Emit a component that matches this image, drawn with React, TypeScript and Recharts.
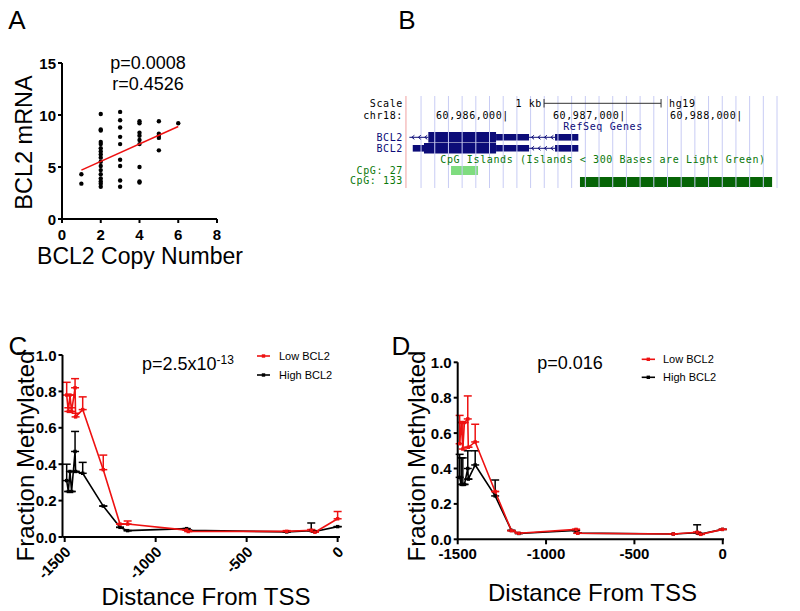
import React from 'react';
import {
  ScatterChart,
  Scatter,
  LineChart,
  Line,
  ComposedChart,
  XAxis,
  YAxis,
  ErrorBar,
  ReferenceLine,
  ReferenceArea,
} from 'recharts';

const FONT = '"Liberation Sans", Arial, Helvetica, sans-serif';
const MONO = '"DejaVu Sans Mono", "Liberation Mono", monospace';
const RED = '#ee1111';
const NAVY = '#0c0c78';
const CPG_TEXT = '#0a780a';

// ---------- Panel A: BCL2 mRNA vs copy number ----------
const aCopyNumber = [
  1, 1,
  2, 2, 2, 2, 2, 2, 2, 2, 2, 2, 2, 2, 2, 2, 2, 2, 2,
  3, 3, 3, 3, 3, 3, 3, 3, 3,
  4, 4, 4, 4, 4, 4, 4, 4, 4,
  5, 5, 5, 5, 5,
  6,
];
const aMRNA = [
  4.3, 3.4,
  10.1, 8.6, 8.5, 7.4, 7.2, 6.8, 6.5, 6.2, 5.9, 5.5, 5.1, 4.7, 4.3, 3.9, 3.6, 3.4, 3.1,
  10.3, 9.5, 8.8, 7.9, 7.2, 5.7, 5.1, 3.7, 3.1,
  9.4, 9.2, 8.3, 8.0, 7.6, 7.2, 5.0, 3.6, 3.5,
  9.4, 8.2, 8.0, 7.8, 6.6,
  9.2,
];
const aFitX = [1, 6];
const aFitY = [4.7, 8.9];
const aXTicks = [0, 2, 4, 6, 8];
const aYTicks = [0, 5, 10, 15];

const aPoints = aCopyNumber.map((x, i) => ({ x, y: aMRNA[i] }));
const aFit = aFitX.map((x, i) => ({ x, y: aFitY[i] }));

// ---------- Panel B: genome browser (hg19 chr18) ----------
const bView = [60985094, 60988427];
const bBorderPos = 60985145;
const bGuideStart = 60985274;
const bGuideStep = 117;
const bGuideCount = 27;
const bScaleBar = [60986325, 60987325];
const bTxAIntrons = [[60985174, 60985336], [60986197, 60986419]];
const bTxAUtr = [[60985915, 60986197], [60986419, 60986618]];
const bTxACds = [[60985336, 60985915]];
const bTxBIntrons = [[60986197, 60986419]];
const bTxBUtr = [[60985203, 60985299], [60985915, 60986197], [60986419, 60986618]];
const bTxBCds = [[60985299, 60985915]];
const bCpG27 = [60985530, 60985761];
const bCpG133 = [60986632, 60988274];

// track row layout (chart-internal vertical units)
const ROW_A = 47.3;
const ROW_B = 58.3;

const bGuides = Array.from({ length: bGuideCount }, (_, k) => bGuideStart + k * bGuideStep);
const chevrons = (introns: number[][], row: number) =>
  introns.flatMap(([s, e]) => {
    const pts: { x: number; y: number }[] = [];
    for (let g = s + 30; g < e - 15; g += 55) pts.push({ x: g, y: row });
    return pts;
  });
const bChevrons = [...chevrons(bTxAIntrons, ROW_A), ...chevrons(bTxBIntrons, ROW_B)];

// ---------- Panels C & D: methylation vs distance from TSS ----------
const cpgPos = [-1489, -1480, -1471, -1462, -1443, -1440, -1401, -1288, -1196, -1154, -830, -821, -280, -145, -125, 0];

const cLow = [0.78, 0.69, 0.78, 0.69, 0.82, 0.66, 0.70, 0.37, 0.071, 0.071, 0.038, 0.030, 0.031, 0.037, 0.026, 0.10];
const cLowErr = [0.07, 0.02, 0.0, 0.02, 0.05, 0.02, 0.07, 0.08, 0.0, 0.017, 0.0, 0.004, 0.004, 0.004, 0.004, 0.04];
const cHigh = [0.31, 0.25, 0.36, 0.25, 0.47, 0.36, 0.35, 0.17, 0.053, 0.035, 0.046, 0.037, 0.028, 0.035, 0.030, 0.057];
const cHighErr = [0.09, 0.0, 0.0, 0.0, 0.11, 0.0, 0.06, 0.0, 0.0, 0.0, 0.0, 0.0, 0.0, 0.042, 0.0, 0.0];

const dLow = [0.54, 0.66, 0.51, 0.66, 0.68, 0.52, 0.55, 0.27, 0.049, 0.034, 0.056, 0.034, 0.030, 0.040, 0.028, 0.056];
const dLowErr = [0.16, 0.0, 0.15, 0.0, 0.13, 0.0, 0.10, 0.0, 0.0, 0.0, 0.0, 0.0, 0.0, 0.0, 0.0, 0.0];
const dHigh = [0.35, 0.31, 0.31, 0.31, 0.40, 0.34, 0.42, 0.245, 0.05, 0.033, 0.05, 0.035, 0.03, 0.037, 0.03, 0.056];
const dHighErr = [0.13, 0.15, 0.15, 0.0, 0.10, 0.0, 0.08, 0.09, 0.0, 0.0, 0.0, 0.0, 0.0, 0.045, 0.0, 0.0];

const methTicksX = [-1500, -1000, -500, 0];
const methTicksY = [0, 0.2, 0.4, 0.6, 0.8, 1.0];

const series = (ys: number[], errs: number[]) =>
  cpgPos.map((x, i) => ({ x, y: ys[i], err: [0, errs[i]] }));

const cLowData = series(cLow, cLowErr);
const cHighData = series(cHigh, cHighErr);
const dLowData = series(dLow, dLowErr);
const dHighData = series(dHigh, dHighErr);

// ---------- shared styles ----------
const axisLine = { stroke: '#000', strokeWidth: 2 };
const tickLine = { stroke: '#000', strokeWidth: 2 };

const fmtPlain = (v: number) => String(v);
const fmtOne = (v: number) => v.toFixed(1);

const yTick = (fmt: (v: number) => string) => (p: any) => (
  <text
    x={p.x}
    y={p.y}
    textAnchor="end"
    dominantBaseline="central"
    fontFamily={FONT}
    fontWeight="bold"
    fontSize={15}
    fill="#000"
  >
    {fmt(p.payload.value)}
  </text>
);
const xTick = (p: any) => (
  <text
    x={p.x}
    y={p.y + 6}
    textAnchor="middle"
    dominantBaseline="central"
    fontFamily={FONT}
    fontWeight="bold"
    fontSize={15}
    fill="#000"
  >
    {p.payload.value}
  </text>
);
const rotTick = (p: any) => (
  <text
    transform={`translate(${p.x + 3},${p.y + 7}) rotate(-45)`}
    textAnchor="end"
    dominantBaseline="central"
    fontFamily={FONT}
    fontWeight="bold"
    fontSize={15}
    fill="#000"
  >
    {p.payload.value}
  </text>
);

const squareDot = (color: string) => (p: any) => (
  <rect key={`d-${p.index}`} x={p.cx - 1.7} y={p.cy - 1.7} width={3.4} height={3.4} fill={color} />
);

const MethChart = ({ low, high, domain, rotate, margin, width, xHeight }: any) => (
  <LineChart width={width} height={281} margin={margin}>
    <XAxis
      type="number"
      dataKey="x"
      domain={domain}
      allowDataOverflow
      ticks={methTicksX}
      interval={0}
      height={xHeight}
      tickSize={5}
      tickMargin={rotate ? 0 : 3.5}
      axisLine={axisLine}
      tickLine={tickLine}
      tick={rotate ? rotTick : xTick}
    />
    <YAxis
      type="number"
      dataKey="y"
      domain={[0, 1]}
      allowDataOverflow
      ticks={methTicksY}
      interval={0}
      width={50}
      tickSize={4}
      tickMargin={2}
      axisLine={axisLine}
      tickLine={tickLine}
      tick={yTick(fmtOne)}
    />
    <Line
      data={high}
      dataKey="y"
      stroke="#000"
      strokeWidth={1.6}
      dot={squareDot('#000')}
      activeDot={false}
      isAnimationActive={false}
    >
      <ErrorBar dataKey="err" direction="y" width={4} stroke="#000" strokeWidth={1.5} />
    </Line>
    <Line
      data={low}
      dataKey="y"
      stroke={RED}
      strokeWidth={1.6}
      dot={squareDot(RED)}
      activeDot={false}
      isAnimationActive={false}
    >
      <ErrorBar dataKey="err" direction="y" width={4} stroke={RED} strokeWidth={1.5} />
    </Line>
  </LineChart>
);

const T = (props: any) => (
  <text fontFamily={FONT} fill="#000" dominantBaseline="central" {...props} />
);
const M = (props: any) => (
  <text fontFamily={MONO} fontSize={10} letterSpacing={0.62} dominantBaseline="central" {...props} />
);

export default function App() {
  return (
    <div style={{ position: 'absolute', left: 0, top: 0, width: 800, height: 611, background: '#fff' }}>
      {/* Panel A */}
      <div style={{ position: 'absolute', left: 0, top: 0 }}>
        <ScatterChart width={280} height={290} margin={{ top: 63, right: 63, bottom: 41, left: 22 }}>
          <XAxis
            type="number"
            dataKey="x"
            domain={[0, 8]}
            ticks={aXTicks}
            interval={0}
            height={30}
            tickSize={4}
            tickMargin={5}
            axisLine={axisLine}
            tickLine={tickLine}
            tick={xTick}
          />
          <YAxis
            type="number"
            dataKey="y"
            domain={[0, 15]}
            ticks={aYTicks}
            interval={0}
            width={40}
            tickSize={4}
            tickMargin={2}
            axisLine={axisLine}
            tickLine={tickLine}
            tick={yTick(fmtPlain)}
          />
          <Scatter
            data={aPoints}
            isAnimationActive={false}
            shape={(p: any) => <circle cx={p.cx} cy={p.cy} r={2.2} fill="#000" />}
          />
          <Scatter
            data={aFit}
            isAnimationActive={false}
            line={{ stroke: RED, strokeWidth: 1.6 }}
            shape={() => <g />}
          />
        </ScatterChart>
      </div>

      {/* Panel B */}
      <div style={{ position: 'absolute', left: 400, top: 90 }}>
        <ComposedChart width={390} height={100} margin={{ top: 0, right: 0, bottom: 0, left: 0 }}>
          <XAxis type="number" dataKey="x" domain={bView} allowDataOverflow hide />
          <YAxis type="number" dataKey="y" domain={[0, 100]} allowDataOverflow reversed hide />
          {bGuides.map((g) => (
            <ReferenceLine
              key={`g${g}`}
              segment={[{ x: g, y: 6 }, { x: g, y: 98 }]}
              stroke="#c8ccf4"
              strokeWidth={1}
            />
          ))}
          <ReferenceLine
            segment={[{ x: bBorderPos, y: 6 }, { x: bBorderPos, y: 98 }]}
            stroke="#f0a0a0"
            strokeWidth={1}
          />
          {/* scale bar */}
          <ReferenceLine
            segment={[{ x: bScaleBar[0], y: 13.3 }, { x: bScaleBar[1], y: 13.3 }]}
            stroke="#333"
            strokeWidth={1}
          />
          {bScaleBar.map((g) => (
            <ReferenceLine
              key={`sb${g}`}
              segment={[{ x: g, y: 9 }, { x: g, y: 17.5 }]}
              stroke="#333"
              strokeWidth={1}
            />
          ))}
          {/* transcript A */}
          {bTxAIntrons.map(([s, e]) => (
            <ReferenceLine key={`ai${s}`} segment={[{ x: s, y: ROW_A }, { x: e, y: ROW_A }]} stroke={NAVY} strokeWidth={1} />
          ))}
          {bTxACds.map(([s, e]) => (
            <ReferenceArea key={`ac${s}`} x1={s} x2={e} y1={ROW_A - 5.3} y2={ROW_A + 5.3} fill={NAVY} fillOpacity={1} stroke="none" />
          ))}
          {bTxAUtr.map(([s, e]) => (
            <ReferenceArea key={`au${s}`} x1={s} x2={e} y1={ROW_A - 3.3} y2={ROW_A + 3.3} fill={NAVY} fillOpacity={1} stroke="none" />
          ))}
          {/* transcript B */}
          {bTxBIntrons.map(([s, e]) => (
            <ReferenceLine key={`bi${s}`} segment={[{ x: s, y: ROW_B }, { x: e, y: ROW_B }]} stroke={NAVY} strokeWidth={1} />
          ))}
          {bTxBCds.map(([s, e]) => (
            <ReferenceArea key={`bc${s}`} x1={s} x2={e} y1={ROW_B - 5.3} y2={ROW_B + 5.3} fill={NAVY} fillOpacity={1} stroke="none" />
          ))}
          {bTxBUtr.map(([s, e]) => (
            <ReferenceArea key={`bu${s}`} x1={s} x2={e} y1={ROW_B - 3.3} y2={ROW_B + 3.3} fill={NAVY} fillOpacity={1} stroke="none" />
          ))}
          <Scatter
            data={bChevrons}
            isAnimationActive={false}
            shape={(p: any) => (
              <polyline
                points={`${p.cx + 1.5},${p.cy - 2} ${p.cx - 1},${p.cy} ${p.cx + 1.5},${p.cy + 2}`}
                fill="none"
                stroke={NAVY}
                strokeWidth={1}
              />
            )}
          />
          {/* CpG islands */}
          <ReferenceArea x1={bCpG27[0]} x2={bCpG27[1]} y1={76} y2={85} fill="#7fdc7f" fillOpacity={1} stroke="none" />
          <ReferenceArea x1={bCpG133[0]} x2={bCpG133[1]} y1={87} y2={97} fill="#066406" fillOpacity={1} stroke="none" />
        </ComposedChart>
      </div>

      {/* Panel C */}
      <div style={{ position: 'absolute', left: 0, top: 330 }}>
        <MethChart
          low={cLowData}
          high={cHighData}
          domain={[-1512, 13]}
          rotate
          width={390}
          xHeight={40}
          margin={{ top: 25, right: 50, bottom: 34, left: 12.5 }}
        />
      </div>

      {/* Panel D */}
      <div style={{ position: 'absolute', left: 390, top: 330 }}>
        <MethChart
          low={dLowData}
          high={dHighData}
          domain={[-1500, 7]}
          width={410}
          xHeight={30}
          margin={{ top: 32.3, right: 76, bottom: 41.7, left: 17.7 }}
        />
      </div>

      {/* text overlay */}
      <svg
        width={800}
        height={611}
        style={{ position: 'absolute', left: 0, top: 0, pointerEvents: 'none' }}
      >
        {/* panel letters */}
        <T x={17} y={20} fontSize={26} textAnchor="middle">A</T>
        <T x={407} y={20} fontSize={26} textAnchor="middle">B</T>
        <T x={18} y={346} fontSize={26} textAnchor="middle">C</T>
        <T x={401} y={346} fontSize={26} textAnchor="middle">D</T>

        {/* Panel A texts */}
        <T x={148} y={63} fontSize={18} textAnchor="middle">p=0.0008</T>
        <T x={148} y={84} fontSize={18} textAnchor="middle">r=0.4526</T>
        <T x={23.5} y={142.5} fontSize={23.5} textAnchor="middle" transform="rotate(-90 23.5 142.5)">BCL2 mRNA</T>
        <T x={140} y={256} fontSize={23} textAnchor="middle">BCL2 Copy Number</T>

        {/* Panel B texts */}
        <M x={403} y={103.3} textAnchor="end" fill="#000">Scale</M>
        <M x={403} y={115} textAnchor="end" fill="#000">chr18:</M>
        <M x={542} y={103.3} textAnchor="end" fill="#000">1 kb</M>
        <M x={669} y={103.3} textAnchor="start" fill="#000">hg19</M>
        <M x={509} y={115} textAnchor="end" fill="#000">60,986,000|</M>
        <M x={626} y={115} textAnchor="end" fill="#000">60,987,000|</M>
        <M x={743} y={115} textAnchor="end" fill="#000">60,988,000|</M>
        <M x={603} y={126.7} textAnchor="middle" fill={NAVY}>RefSeq Genes</M>
        <M x={403} y={137.3} textAnchor="end" fill={NAVY}>BCL2</M>
        <M x={403} y={148.3} textAnchor="end" fill={NAVY}>BCL2</M>
        <M x={603} y={159.3} textAnchor="middle" fill={CPG_TEXT}>
          CpG Islands (Islands &lt; 300 Bases are Light Green)
        </M>
        <M x={403} y={170} textAnchor="end" fill={CPG_TEXT}>CpG: 27</M>
        <M x={403} y={180.7} textAnchor="end" fill={CPG_TEXT}>CpG: 133</M>

        {/* Panel C texts */}
        <T x={25} y={456} fontSize={24} textAnchor="middle" transform="rotate(-90 25 456)">Fraction Methylated</T>
        <T x={206} y={596} fontSize={24} textAnchor="middle">Distance From TSS</T>
        <text x={142} y={369.5} fontSize={18} fontFamily={FONT} fill="#000">
          p=2.5x10<tspan fontSize={12} dy={-5.5}>-13</tspan>
        </text>
        <line x1={257} x2={270} y1={356} y2={356} stroke={RED} strokeWidth={1.6} />
        <rect x={261.8} y={354.3} width={3.4} height={3.4} fill={RED} />
        <T x={279} y={356} fontSize={11}>Low BCL2</T>
        <line x1={257} x2={270} y1={375} y2={375} stroke="#000" strokeWidth={1.6} />
        <rect x={261.8} y={373.3} width={3.4} height={3.4} fill="#000" />
        <T x={279} y={375} fontSize={11}>High BCL2</T>

        {/* Panel D texts */}
        <T x={416.7} y={456} fontSize={24} textAnchor="middle" transform="rotate(-90 416.7 456)">Fraction Methylated</T>
        <T x={592.5} y={592} fontSize={24} textAnchor="middle">Distance From TSS</T>
        <T x={570} y={363} fontSize={18} textAnchor="middle">p=0.016</T>
        <line x1={641.7} x2={655} y1={359.3} y2={359.3} stroke={RED} strokeWidth={1.6} />
        <rect x={646.6} y={357.6} width={3.4} height={3.4} fill={RED} />
        <T x={663} y={359.3} fontSize={11}>Low BCL2</T>
        <line x1={641.7} x2={655} y1={377.3} y2={377.3} stroke="#000" strokeWidth={1.6} />
        <rect x={646.6} y={375.6} width={3.4} height={3.4} fill="#000" />
        <T x={663} y={377.3} fontSize={11}>High BCL2</T>
      </svg>
    </div>
  );
}
